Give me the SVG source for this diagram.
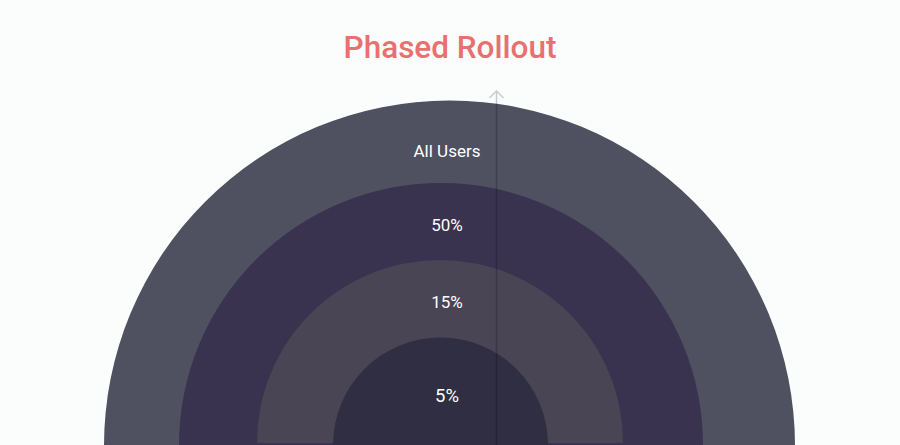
<svg xmlns="http://www.w3.org/2000/svg" width="900" height="445" viewBox="0 0 900 445">
<defs>
<style>
.lbl{font-family:Roboto,"Liberation Sans",sans-serif;font-size:17px;fill:#ffffff;text-anchor:middle}
.title{font-family:Roboto,"Liberation Sans",sans-serif;font-size:31.5px;font-weight:500;fill:#e8716f;text-anchor:middle}
</style>
<marker id="arr" viewBox="0 0 10 16" refX="9" refY="8" markerWidth="10" markerHeight="16" markerUnits="userSpaceOnUse" orient="auto">
<path d="M2,1 L9,8 L2,15" fill="none" stroke="#cfcfd2" stroke-width="1.6"/>
</marker>
</defs>
<rect width="900" height="445" fill="#fbfcfc"/>
<text class="title" x="450" y="58">Phased Rollout</text>
<g id="ring-all"><path d="M104,446 A345.5,345.5 0 0 1 795,446 Z" fill="#4f5060"/><text class="lbl" x="447" y="157">All Users</text></g>
<g id="ring-50"><path d="M179,445 A262,262 0 0 1 703,445 Z" fill="#393350"/><text class="lbl" x="447" y="231">50%</text></g>
<g id="ring-15"><path d="M257,443 A183,183 0 0 1 623,443 Z" fill="#494554"/><text class="lbl" x="447" y="308">15%</text></g>
<g id="ring-5"><path d="M333,445 A107.5,107.5 0 0 1 548,445 Z" fill="#302e42"/><text class="lbl" x="447" y="402" style="font-size:18.5px">5%</text></g>
<g id="connectors"><line x1="496.5" y1="445" x2="496.5" y2="91" stroke="#000" stroke-opacity="0.2" stroke-width="1.5" marker-end="url(#arr)"/></g>
</svg>
